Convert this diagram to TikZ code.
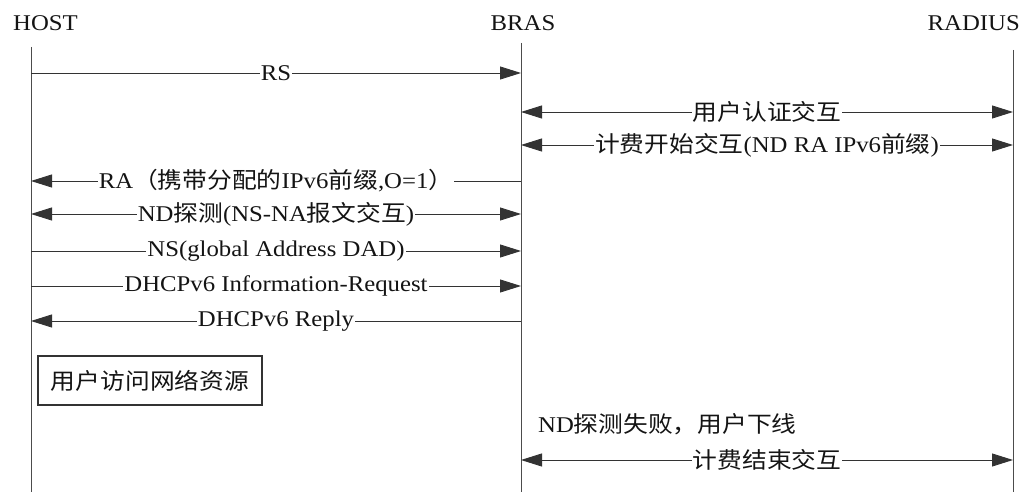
\documentclass[tikz,border=0pt]{standalone}
\usepackage{fontspec}
\setmainfont{Liberation Serif}[FakeStretch=1.1]
\newfontfamily\cjk{Noto Sans CJK SC}[FakeStretch=1.1]
\newcommand{\zh}[1]{{\cjk #1}}
\usetikzlibrary{arrows.meta}
\begin{document}
\begin{tikzpicture}[x=1bp,y=-1bp,
  every node/.style={font=\fontsize{22.5bp}{26bp}\selectfont, text=black!92},
  life/.style={draw=black!70, line width=0.9bp},
  msg/.style={draw=black!80, line width=0.9bp},
  tip/.style={-{Triangle[length=21bp,width=13bp]}},
  both/.style={{Triangle[length=21bp,width=13bp]}-{Triangle[length=21bp,width=13bp]}},
  lbl/.style={fill=white, inner sep=1bp, midway},
  head/.style={inner sep=0pt}]
\useasboundingbox (0,0) rectangle (1023,492);

% participants
\node[head, anchor=base west] (host) at (13,31) {HOST};
\node[head, anchor=base] (bras) at (523,31) {BRAS};
\node[head, anchor=base east] (radius) at (1020,31) {RADIUS};

% lifelines
\coordinate (hT) at (31,47);   \coordinate (hB) at (31,492);
\coordinate (bT) at (521,43);  \coordinate (bB) at (521,492);
\coordinate (rT) at (1013,50); \coordinate (rB) at (1013,492);
\draw[life] (hT) -- (hB);
\draw[life] (bT) -- (bB);
\draw[life] (rT) -- (rB);

% message anchors on the lifelines
\foreach \n/\y in {1/73,2/112,3/145,4/181,5/214,6/251,7/286,8/321,9/460}{
  \coordinate (h\n) at (31,\y);
  \coordinate (b\n) at (521,\y);
  \coordinate (r\n) at (1013,\y);
}

% messages
\draw[msg, tip]  (h1) -- node[lbl] (m1) {RS} (b1);
\draw[msg, both] (b2) -- node[lbl] (m2) {\zh{用户认证交互}} (r2);
\draw[msg, both] (b3) -- node[lbl] (m3) {\zh{计费开始交互}(ND RA IPv6\zh{前缀})} (r3);
\draw[msg, tip]  (b4) -- node[lbl] (m4) {RA\zh{（携带分配的}IPv6\zh{前缀},O=1\zh{）}\hspace{4bp}} (h4);
\draw[msg, both] (h5) -- node[lbl] (m5) {ND\zh{探测}(NS-NA\zh{报文交互})} (b5);
\draw[msg, tip]  (h6) -- node[lbl] (m6) {NS(global Address DAD)} (b6);
\draw[msg, tip]  (h7) -- node[lbl] (m7) {DHCPv6 Information-Request} (b7);
\draw[msg, tip]  (b8) -- node[lbl] (m8) {DHCPv6 Reply} (h8);

% host-side activity
\node[draw=black!80, line width=1.1bp, minimum width=224bp, minimum height=49bp, inner sep=0pt]
  (access) at (150,380.5) {\zh{用户访问网络资源}};

% detection failure and accounting stop
\node[head, anchor=base west] (fail) at (538,432) {ND\zh{探测失败，用户下线}};
\draw[msg, both] (b9) -- node[lbl] (m9) {\zh{计费结束交互}} (r9);
\end{tikzpicture}
\end{document}
